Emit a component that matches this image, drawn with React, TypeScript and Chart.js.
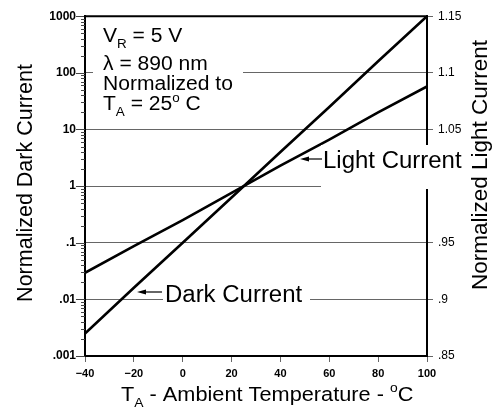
import React, { useEffect, useRef } from 'react';
import { Chart, registerables } from 'chart.js';

Chart.register(...registerables);

// ---- data ----
const temperatures = [-40, -20, 0, 20, 40, 60, 80, 100];
const darkCurrent = [0.0025, 0.016, 0.1, 0.63, 4.0, 25, 160, 1000];
const lightCurrent = [0.9235, 0.947, 0.970, 0.994, 1.018, 1.041, 1.065, 1.088];

const xTickValues = [-40, -20, 0, 20, 40, 60, 80, 100];
const darkDecades = [0.001, 0.01, 0.1, 1, 10, 100, 1000];
const darkDecadeLabels = ['.001', '.01', '.1', '1', '10', '100', '1000'];
const darkMinorMultipliers = [2, 3, 4, 5, 6, 7, 8, 9];
const lightTickValues = [0.85, 0.9, 0.95, 1.0, 1.05, 1.1, 1.15];
const lightTickLabels = ['.85', '.9', '.95', '', '1.05', '1.1', '1.15'];

const FAMILY = "'Liberation Sans', Arial, Helvetica, sans-serif";

type Part = { t: string; k?: 'sub' | 'sup' };

function drawRich(
  ctx: CanvasRenderingContext2D,
  parts: Part[],
  x: number,
  y: number,
  size: number,
  hs: number
) {
  ctx.save();
  ctx.translate(x, y);
  ctx.scale(hs, 1);
  ctx.textBaseline = 'alphabetic';
  ctx.textAlign = 'left';
  ctx.fillStyle = '#000';
  let cx = 0;
  for (const p of parts) {
    const s = p.k ? size * 0.64 : size;
    ctx.font = `${s}px ${FAMILY}`;
    const dy = p.k === 'sub' ? size * 0.3 : p.k === 'sup' ? -size * 0.42 : 0;
    ctx.fillText(p.t, cx, dy);
    cx += ctx.measureText(p.t).width;
  }
  ctx.restore();
}

function arrowLeft(ctx: CanvasRenderingContext2D, tipX: number, endX: number, y: number) {
  ctx.save();
  ctx.strokeStyle = '#000';
  ctx.fillStyle = '#000';
  ctx.lineWidth = 1.2;
  ctx.beginPath();
  ctx.moveTo(tipX + 6, y);
  ctx.lineTo(endX, y);
  ctx.stroke();
  ctx.beginPath();
  ctx.moveTo(tipX, y);
  ctx.lineTo(tipX + 9, y - 2.6);
  ctx.lineTo(tipX + 9, y + 2.6);
  ctx.closePath();
  ctx.fill();
  ctx.restore();
}

const isDecade = (v: number) => {
  const l = Math.log10(v);
  return Math.abs(l - Math.round(l)) < 1e-6;
};

const annotationPlugin = {
  id: 'annotations',
  afterDraw(chart: any) {
    const { ctx, chartArea: ca, scales } = chart;
    const yS = scales.y;
    ctx.save();

    // left axis tick marks (major and minor)
    ctx.strokeStyle = '#444';
    ctx.lineWidth = 1;
    const allTicks: number[] = [];
    darkDecades.forEach((d, i) => {
      allTicks.push(d);
      if (i < darkDecades.length - 1) darkMinorMultipliers.forEach((m) => allTicks.push(m * d));
    });
    allTicks.forEach((v) => {
      const py = Math.round(yS.getPixelForValue(v)) + 0.5;
      const len = isDecade(v) ? 9 : 4;
      ctx.beginPath();
      ctx.moveTo(ca.left - len, py);
      ctx.lineTo(ca.left, py);
      ctx.stroke();
    });

    // top frame line
    ctx.strokeStyle = '#000';
    ctx.lineWidth = 2;
    ctx.beginPath();
    ctx.moveTo(ca.left - 1, ca.top);
    ctx.lineTo(ca.right + 1, ca.top);
    ctx.stroke();

    // white label boxes (hide grid / frame behind text)
    ctx.fillStyle = '#fff';
    ctx.fillRect(93, 19, 150, 95);
    ctx.fillRect(321, 145, 146, 44);
    ctx.fillRect(163, 282, 147, 22);

    // condition text block
    const s1 = 19.5;
    const h1 = 1.08;
    drawRich(ctx, [{ t: 'V' }, { t: 'R', k: 'sub' }, { t: ' = 5 V' }], 103, 42, s1, h1);
    drawRich(ctx, [{ t: '\u03bb = 890 nm' }], 103, 70, s1, h1);
    drawRich(ctx, [{ t: 'Normalized to' }], 103, 90, s1, h1);
    drawRich(
      ctx,
      [{ t: 'T' }, { t: 'A', k: 'sub' }, { t: ' = 25' }, { t: 'o', k: 'sup' }, { t: ' C' }],
      103,
      110,
      s1,
      h1
    );

    // series labels with arrows
    arrowLeft(ctx, 300, 322, 159);
    drawRich(ctx, [{ t: 'Light Current' }], 323, 168, 23.5, 1.02);
    arrowLeft(ctx, 137, 162, 292);
    drawRich(ctx, [{ t: 'Dark Current' }], 165, 301.5, 23.5, 1.02);

    // x axis title
    drawRich(
      ctx,
      [{ t: 'T' }, { t: 'A', k: 'sub' }, { t: ' - Ambient Temperature - ' }, { t: 'o', k: 'sup' }, { t: 'C' }],
      121,
      400.5,
      20.5,
      1.06
    );

    // y axis titles
    ctx.fillStyle = '#000';
    ctx.textAlign = 'center';
    ctx.textBaseline = 'alphabetic';
    ctx.save();
    ctx.translate(32, 183);
    ctx.rotate(-Math.PI / 2);
    ctx.font = `21.5px ${FAMILY}`;
    ctx.fillText('Normalized Dark Current', 0, 0);
    ctx.restore();
    ctx.save();
    ctx.translate(487, 165);
    ctx.rotate(-Math.PI / 2);
    ctx.font = `22.5px ${FAMILY}`;
    ctx.fillText('Normalized Light Current', 0, 0);
    ctx.restore();

    ctx.restore();
  },
};

export default function App() {
  const ref = useRef<HTMLCanvasElement>(null);

  useEffect(() => {
    const canvas = ref.current;
    if (!canvas) return;
    const chart = new Chart(canvas, {
      type: 'line',
      data: {
        datasets: [
          {
            label: 'Dark Current',
            data: temperatures.map((t, i) => ({ x: t, y: darkCurrent[i] })),
            yAxisID: 'y',
            borderColor: '#000',
            borderWidth: 2.6,
            pointRadius: 0,
            tension: 0,
            fill: false,
          },
          {
            label: 'Light Current',
            data: temperatures.map((t, i) => ({ x: t, y: lightCurrent[i] })),
            yAxisID: 'y2',
            borderColor: '#000',
            borderWidth: 2.6,
            pointRadius: 0,
            tension: 0,
            fill: false,
          },
        ],
      },
      options: {
        animation: false,
        responsive: true,
        maintainAspectRatio: false,
        layout: { padding: { top: 16, left: 0, right: 0, bottom: 0 } },
        plugins: { legend: { display: false }, tooltip: { enabled: false } },
        scales: {
          x: {
            type: 'linear',
            min: -40,
            max: 100,
            afterBuildTicks: (s: any) => {
              s.ticks = xTickValues.map((v) => ({ value: v }));
            },
            afterFit: (s: any) => {
              s.height = 53;
            },
            ticks: {
              autoSkip: false,
              maxRotation: 0,
              padding: 5,
              color: '#000',
              font: { family: FAMILY, size: 11, weight: 'bold' },
              callback: (v: any) => (v < 0 ? '\u2212' + Math.abs(v) : String(v)),
            },
            grid: { drawOnChartArea: false, tickLength: 6, color: '#666', lineWidth: 1 },
            border: { color: '#000', width: 2 },
          },
          y: {
            type: 'logarithmic',
            position: 'left',
            min: 0.001,
            max: 1000,
            afterBuildTicks: (s: any) => {
              const arr: { value: number }[] = [];
              darkDecades.forEach((d, i) => {
                arr.push({ value: d });
                if (i < darkDecades.length - 1)
                  darkMinorMultipliers.forEach((m) => arr.push({ value: m * d }));
              });
              s.ticks = arr;
            },
            afterFit: (s: any) => {
              s.width = 85;
            },
            ticks: {
              autoSkip: false,
              padding: 9,
              color: '#000',
              font: { family: FAMILY, size: 12, weight: 'bold' },
              callback: (v: any) => {
                const idx = darkDecades.findIndex((d) => Math.abs(d - v) / d < 1e-6);
                return idx >= 0 ? darkDecadeLabels[idx] : '';
              },
            },
            grid: {
              drawTicks: false,
              lineWidth: 1,
              color: (c: any) => (c.tick && isDecade(c.tick.value) ? '#666' : 'rgba(0,0,0,0)'),
            },
            border: { color: '#000', width: 2 },
          },
          y2: {
            type: 'linear',
            position: 'right',
            min: 0.85,
            max: 1.15,
            afterBuildTicks: (s: any) => {
              s.ticks = lightTickValues.map((v) => ({ value: v }));
            },
            afterFit: (s: any) => {
              s.width = 77;
            },
            ticks: {
              autoSkip: false,
              padding: 5,
              color: '#000',
              font: { family: FAMILY, size: 12 },
              callback: (v: any) => {
                const idx = lightTickValues.findIndex((d) => Math.abs(d - v) < 1e-6);
                return idx >= 0 ? lightTickLabels[idx] : '';
              },
            },
            grid: { drawOnChartArea: false, tickLength: 6, color: '#666', lineWidth: 1 },
            border: { color: '#000', width: 2 },
          },
        },
      } as any,
      plugins: [annotationPlugin],
    });
    return () => chart.destroy();
  }, []);

  return (
    <div style={{ position: 'fixed', left: 0, top: 0, width: 504, height: 409, background: '#fff' }}>
      <canvas ref={ref} />
    </div>
  );
}
